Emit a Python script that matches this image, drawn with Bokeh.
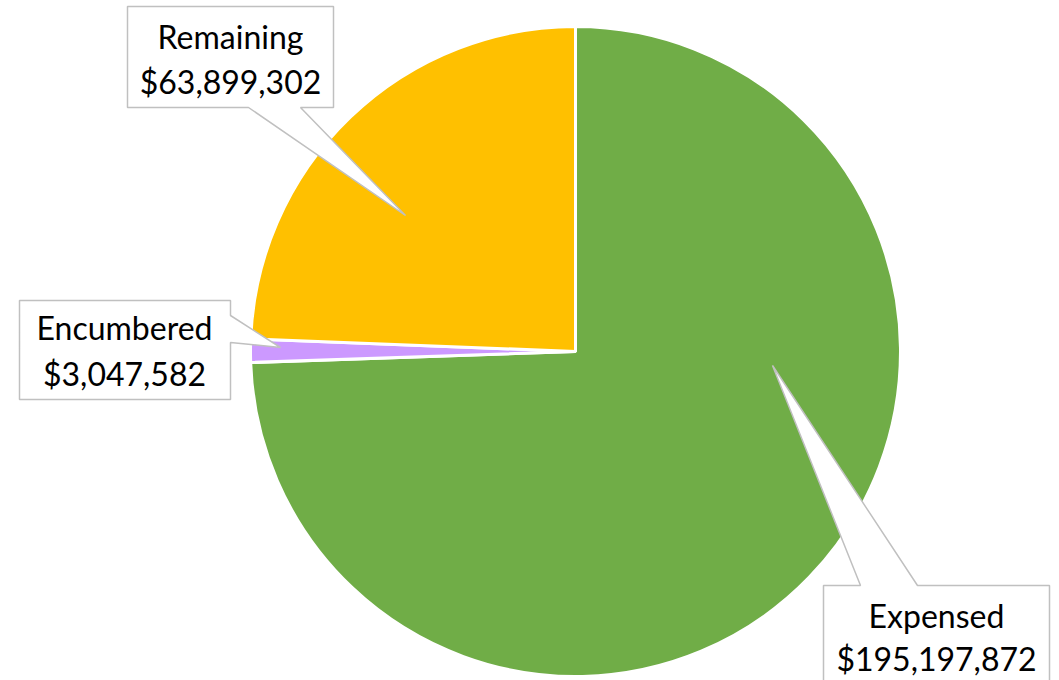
import math
from bokeh.plotting import figure
from bokeh.models import Range1d, ColumnDataSource
from bokeh.core.properties import value
from bokeh.embed import file_html
from bokeh.resources import INLINE

# ---- data ----
categories = ["Expensed", "Encumbered", "Remaining"]
amounts = [195197872, 3047582, 63899302]
colors = ["#70AD47", "#CC99FF", "#FFC000"]

W, H = 1059, 680
p = figure(width=W, height=H, output_backend="svg", toolbar_location=None,
           x_range=Range1d(0, W), y_range=Range1d(0, H), min_border=0)
p.axis.visible = False
p.grid.visible = False
p.outline_line_color = None
p.background_fill_color = "white"
p.border_fill_color = "white"

def Y(py):
    return H - py

cx, cy, r = 575, Y(351), 325
total = sum(amounts)
starts, ends = [], []
cum = 0.0
for a in amounts:
    s = math.pi / 2 - 2 * math.pi * cum / total
    cum += a
    e = math.pi / 2 - 2 * math.pi * cum / total
    starts.append(s)
    ends.append(e)

src = ColumnDataSource(dict(cat=categories, val=amounts, start=starts, end=ends, color=colors))
p.wedge(x=cx, y=cy, radius=r, start_angle="start", end_angle="end", direction="clock",
        fill_color="color", line_color="white", line_width=3, source=src)

# ---- callouts (layout) ----
layout = {
    "Remaining": dict(box=(127, 6, 333, 107), side="bottom", base=(248, 300), tip=(405, 215),
                      cx=230, b1=47, b2=92),
    "Encumbered": dict(box=(19, 300, 230, 399), side="right", base=(315, 342), tip=(280, 347),
                       cx=124, b1=338, b2=384),
    "Expensed": dict(box=(823, 585, 1049, 700), side="top", base=(860, 917), tip=(772, 365),
                     cx=936, b1=626, b2=669),
}
shift = 11

xs_all, ys_all = [], []
for cat in categories:
    L = layout[cat]
    x0, y0, x1, y1 = L["box"]
    tx, ty = L["tip"]
    b0, b1 = L["base"]
    if L["side"] == "bottom":
        pts = [(x0, y0), (x1, y0), (x1, y1), (b1, y1), (tx, ty), (b0, y1), (x0, y1)]
    elif L["side"] == "right":
        pts = [(x0, y0), (x1, y0), (x1, b0), (tx, ty), (x1, b1), (x1, y1), (x0, y1)]
    else:
        pts = [(x0, y0), (b0, y0), (tx, ty), (b1, y0), (x1, y0), (x1, y1), (x0, y1)]
    xs_all.append([pt[0] for pt in pts])
    ys_all.append([Y(pt[1]) for pt in pts])

p.patches(xs=xs_all, ys=ys_all, fill_color="white", line_color="#C0C0C0", line_width=1.5)

tx_, ty_, tt_ = [], [], []
for cat, a in zip(categories, amounts):
    L = layout[cat]
    tx_ += [L["cx"], L["cx"]]
    ty_ += [Y(L["b1"] - shift), Y(L["b2"] - shift)]
    tt_ += [cat, f"${a:,}"]

p.text(x=tx_, y=ty_, text=tt_, text_align="center", text_baseline="alphabetic",
       text_font=value("Lato"), text_font_size="32px", text_color="black")

open("out.html", "w").write(file_html(p, INLINE))
